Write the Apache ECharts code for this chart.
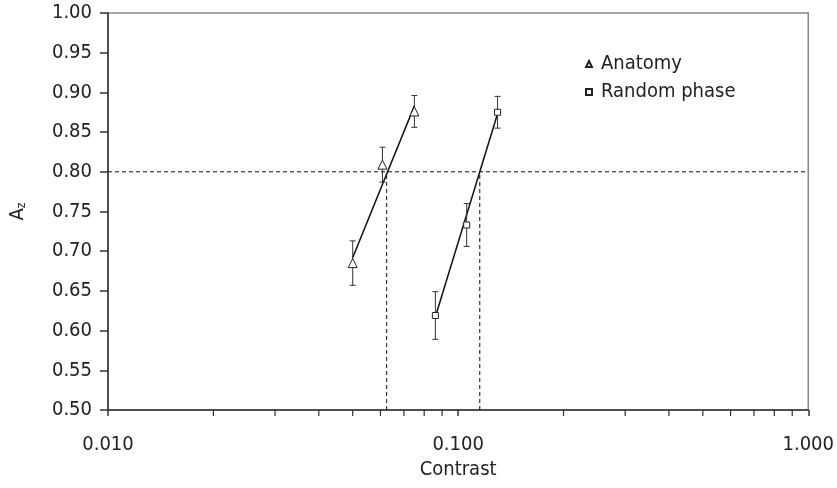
<!DOCTYPE html>
<html>
<head>
<meta charset="utf-8">
<script src="https://cdn.jsdelivr.net/npm/echarts@6/dist/echarts.min.js"></script>
<style>html,body{margin:0;padding:0;background:#fff;}#c{width:837px;height:488px;}</style>
</head>
<body>
<div id="c"></div>
<script>
// Data
var anatomyX = [0.050, 0.0608, 0.075];
var anatomyY = [0.685, 0.809, 0.876];
var anatomyErr = [0.028, 0.022, 0.020];
var randomX = [0.0861, 0.1058, 0.1296];
var randomY = [0.619, 0.733, 0.875];
var randomErr = [0.030, 0.027, 0.020];
var anatomyFitX = [0.050, 0.075];
var anatomyFitY = [0.692, 0.883];
var randomFitX = [0.0862, 0.1296];
var randomFitY = [0.618, 0.873];
var threshold = 0.80;
var anatomyCut = 0.0625;
var randomCut = 0.1153;
var xRange = [0.01, 1];
var yRange = [0.5, 1.0];
var minorTicks = [0.02,0.03,0.04,0.05,0.06,0.07,0.08,0.09,0.2,0.3,0.4,0.5,0.6,0.7,0.8,0.9];

function pairs(xs, ys){ return xs.map(function(x,i){ return [x, ys[i]]; }); }
function errData(xs, ys, es){ return xs.map(function(x,i){ return [x, ys[i], es[i]]; }); }

var FONT = '"DejaVu Sans Condensed", "DejaVu Sans", sans-serif';
var TXT = '#222';
var FS = 20;
var chart = echarts.init(document.getElementById('c'));

function errRender(params, api){
  var x = api.value(0), y = api.value(1), e = api.value(2);
  var top = api.coord([x, y + e]);
  var bot = api.coord([x, y - e]);
  var w = 3;
  var st = {stroke: '#333', lineWidth: 1};
  return {type: 'group', children: [
    {type: 'line', shape: {x1: top[0], y1: top[1], x2: bot[0], y2: bot[1]}, style: st},
    {type: 'line', shape: {x1: top[0]-w, y1: top[1], x2: top[0]+w, y2: top[1]}, style: st},
    {type: 'line', shape: {x1: bot[0]-w, y1: bot[1], x2: bot[0]+w, y2: bot[1]}, style: st}
  ]};
}

var dashStyle = {color: '#111', width: 1, type: [4, 3]};

chart.setOption({
  animation: false,
  backgroundColor: '#fff',
  textStyle: {fontFamily: FONT, color: TXT},
  grid: {left: 104, right: 27, top: 13, bottom: 78, show: true, borderColor: '#888', borderWidth: 1.5},
  legend: {
    data: ['Anatomy', 'Random phase'],
    orient: 'vertical',
    left: 580, top: 49,
    itemWidth: 6, itemHeight: 6, itemGap: 8,
    textStyle: {fontFamily: FONT, fontSize: FS, color: TXT, padding: [0, 0, 0, 4]}
  },
  xAxis: {
    type: 'log', logBase: 10, min: xRange[0], max: xRange[1],
    name: 'Contrast', nameLocation: 'middle', nameGap: 48,
    nameTextStyle: {fontFamily: FONT, fontSize: FS, color: TXT},
    axisLine: {lineStyle: {color: '#333', width: 1.5}},
    axisTick: {show: true, length: 6, inside: false, lineStyle: {color: '#333', width: 1.5}},
    minorTick: {show: false},
    splitLine: {show: false},
    axisLabel: {fontFamily: FONT, fontSize: FS, color: TXT, margin: 25,
      formatter: function(v){ return Number(v).toFixed(3); }}
  },
  yAxis: {
    type: 'value', min: yRange[0], max: yRange[1], interval: 0.05,
    name: '{a|A}{s|z}', nameLocation: 'middle', nameGap: 80, nameRotate: 90,
    nameTextStyle: {fontFamily: FONT, color: TXT,
      rich: {a: {fontFamily: FONT, fontSize: FS, color: TXT},
             s: {fontFamily: FONT, fontSize: 12, color: TXT, verticalAlign: 'bottom', padding: [8, 0, 0, 0]}}},
    axisLine: {show: true, lineStyle: {color: '#333', width: 1.5}},
    axisTick: {show: true, length: 8, inside: false, lineStyle: {color: '#333', width: 1.5}},
    splitLine: {show: false},
    axisLabel: {fontFamily: FONT, fontSize: FS, color: TXT, margin: 16,
      formatter: function(v){ return v.toFixed(2); }}
  },
  series: [
    {type: 'line', name: 'thr', data: [[xRange[0], threshold], [xRange[1], threshold]],
      symbol: 'none', lineStyle: dashStyle, z: 2, silent: true},
    {type: 'line', name: 'cutA', data: [[anatomyCut, yRange[0]], [anatomyCut, threshold]],
      symbol: 'none', lineStyle: dashStyle, z: 2, silent: true},
    {type: 'line', name: 'cutR', data: [[randomCut, yRange[0]], [randomCut, threshold]],
      symbol: 'none', lineStyle: dashStyle, z: 2, silent: true},
    {type: 'line', name: 'fitA', data: pairs(anatomyFitX, anatomyFitY),
      symbol: 'none', lineStyle: {color: '#111', width: 1.5}, z: 3, silent: true},
    {type: 'line', name: 'fitR', data: pairs(randomFitX, randomFitY),
      symbol: 'none', lineStyle: {color: '#111', width: 1.5}, z: 3, silent: true},
    {type: 'custom', name: 'errA', data: errData(anatomyX, anatomyY, anatomyErr),
      renderItem: errRender, z: 4, silent: true},
    {type: 'custom', name: 'errR', data: errData(randomX, randomY, randomErr),
      renderItem: errRender, z: 4, silent: true},
    {type: 'scatter', name: 'Anatomy', data: pairs(anatomyX, anatomyY),
      symbol: 'triangle', symbolSize: 9,
      itemStyle: {color: '#fff', borderColor: '#222', borderWidth: 1, opacity: 1}, z: 5},
    {type: 'scatter', name: 'Random phase', data: pairs(randomX, randomY),
      symbol: 'rect', symbolSize: 6,
      itemStyle: {color: '#fff', borderColor: '#222', borderWidth: 1, opacity: 1}, z: 5},
    {type: 'custom', name: 'minorTicks', data: minorTicks.map(function(v){ return [v, yRange[0]]; }),
      clip: false, silent: true, z: 6,
      renderItem: function(params, api){
        var p = api.coord([api.value(0), api.value(1)]);
        return {type: 'line', shape: {x1: p[0], y1: p[1], x2: p[0], y2: p[1] + 6},
          style: {stroke: '#333', lineWidth: 1.2}};
      }}
  ]
});
</script>
</body>
</html>
